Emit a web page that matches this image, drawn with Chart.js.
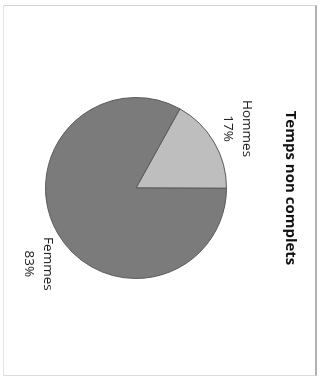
<!DOCTYPE html>
<html>
<head>
<meta charset="utf-8">
<script src="https://cdn.jsdelivr.net/npm/chart.js@4/dist/chart.umd.min.js"></script>
<style>
    html, body { margin: 0; padding: 0; background: #fff; overflow: hidden; }
    body { width: 320px; height: 383px; position: relative; }
    #frame {
        position: absolute; left: 3px; top: 5px; width: 311px; height: 369px;
        border-top: 1px solid #d4d4d4; border-right: 2px solid #b0b0b0;
        border-bottom: 1px solid #dcdcdc; border-left: 1px solid #e4e4e4;
    }
    /* the scanned chart is turned a quarter turn clockwise */
    #wrap {
        position: absolute; left: 0; top: 0; width: 383px; height: 320px;
        transform-origin: 0 0; transform: translate(320px, 0) rotate(90deg);
    }
</style>
</head>
<body>
<div id="frame"></div>
<div id="wrap"><canvas id="chart" width="383" height="320"></canvas></div>
<script>
    'use strict';

    // Data
    const categories = ['Hommes', 'Femmes'];
    const values = [17, 83];
    const sliceColors = ['#bebebe', '#7b7b7b'];
    const chartTitle = 'Temps non complets';

    // Draw "name / xx%" outside each slice
    const outsideLabels = {
        id: 'outsideLabels',
        afterDatasetsDraw(chart) {
            const ctx = chart.ctx;
            const meta = chart.getDatasetMeta(0);
            const total = values.reduce((a, b) => a + b, 0);
            const offsets = [27, 33];
            const turn = [0, -7.5 * Math.PI / 180];
            ctx.save();
            ctx.font = '13.5px "Open Sans", sans-serif';
            ctx.fillStyle = '#222';
            ctx.textAlign = 'center';
            ctx.textBaseline = 'middle';
            meta.data.forEach(function(arc, i) {
                const p = arc.getProps(['x', 'y', 'startAngle', 'endAngle', 'outerRadius'], true);
                const mid = (p.startAngle + p.endAngle) / 2 + turn[i];
                const r = p.outerRadius + offsets[i];
                const x = p.x + Math.cos(mid) * r;
                const y = p.y + Math.sin(mid) * r;
                const pct = Math.round(values[i] / total * 100) + '%';
                ctx.fillText(categories[i], x, y - 9);
                ctx.fillText(pct, x, y + 10);
            });
            ctx.restore();
        }
    };

    new Chart(document.getElementById('chart'), {
        type: 'pie',
        data: {
            labels: categories,
            datasets: [{
                data: values,
                backgroundColor: sliceColors,
                borderColor: '#5a5a5a',
                borderWidth: 1
            }]
        },
        options: {
            responsive: false,
            animation: false,
            rotation: -61,
            layout: {
                padding: { top: 0, bottom: 45, left: 97, right: 104 }
            },
            plugins: {
                legend: { display: false },
                tooltip: { enabled: false },
                title: {
                    display: true,
                    text: chartTitle,
                    color: '#111',
                    font: { family: '"Open Sans", sans-serif', size: 15, weight: 'bold', lineHeight: 1.2 },
                    padding: { top: 21, bottom: 54 }
                }
            }
        },
        plugins: [outsideLabels]
    });
</script>
</body>
</html>
